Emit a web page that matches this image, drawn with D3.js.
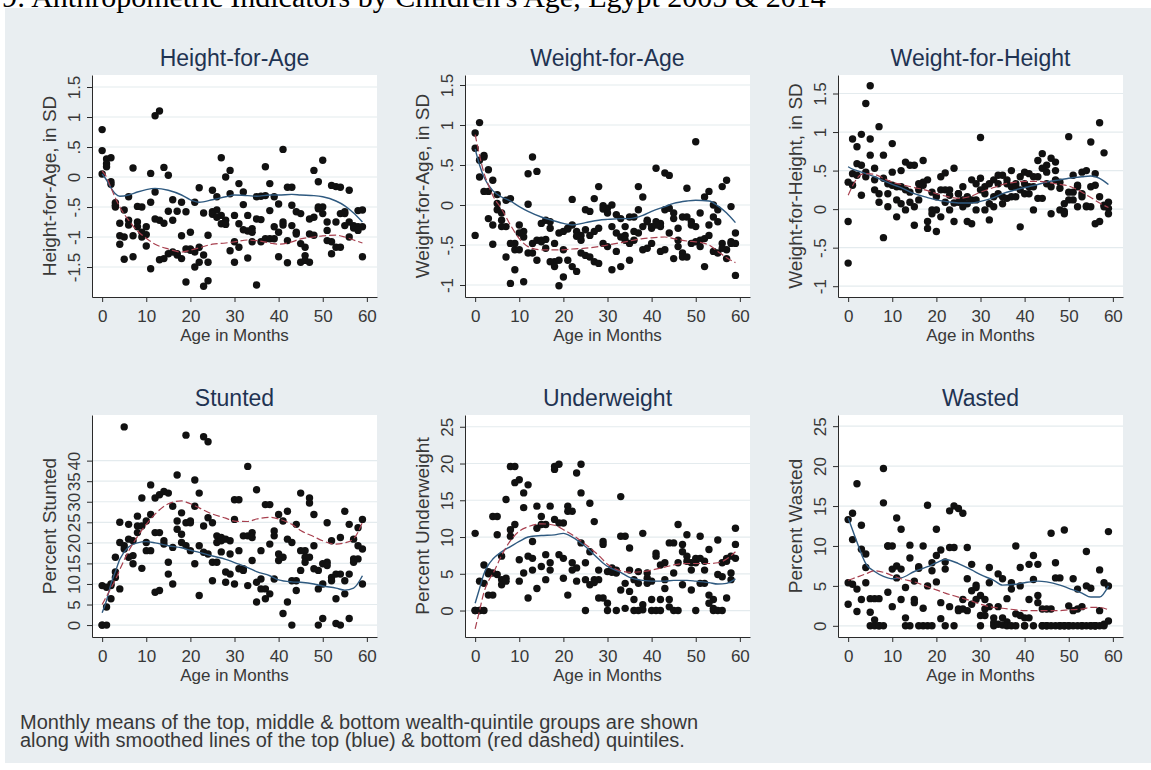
<!DOCTYPE html>
<html>
<head>
<meta charset="utf-8">
<script src="https://cdn.jsdelivr.net/npm/d3@7"></script>
<style>
  body { margin: 0; background: #ffffff; }
  text { font-family: "Liberation Sans", Arial, sans-serif; }
</style>
</head>
<body>
<script>
// Canvas
let width = 1151;
let height = 770;

let svg = d3.select("body")
            .append("svg")
            .attr("width", width)
            .attr("height", height);

// Colours
let graph_bg = "#e9eef1";
let plot_bg = "#ffffff";
let grid_color = "#e4ebee";
let title_color = "#1f3352";
let axis_color = "#2a2a2a";
let label_color = "#383838";
let top_color = "#2f5a80";     // top quintile smooth (blue)
let bottom_color = "#a8404f";  // bottom quintile smooth (red dashed)

// Months 0..59 (x categories)
const months = d3.range(0, 60);
// knots of the smoothed lines
const smoothMonths = [0,1,2,3,4,6,8,10,12,15,18,20,22,25,28,30,33,35,38,40,43,45,48,50,53,55,57,59];

// ---------- Height-for-Age (z-score) ----------
const hazHi = [0.79,0.3,0.32,-0.43,-0.77,-0.55,-0.33,0.15,-0.49,-0.5,-0.83,0.06,1.02,1.1,0.16,0.03,-0.38,-0.57,-0.42,-0.58,
  -0.92,-0.42,-0.18,-0.6,-0.97,-0.22,-0.33,0.32,0.0,0.11,-0.64,-0.11,-0.25,-0.64,-0.86,-0.33,-0.32,0.17,-0.11,-0.33,
  -0.45,0.46,-0.17,-0.17,-0.58,-0.61,-1.17,-0.7,0.11,-0.08,0.28,-0.75,-0.14,-0.16,-0.17,-0.58,-0.22,-0.81,-0.56,-0.55];
const hazMid = [0.44,0.22,-0.08,-0.47,-0.98,-1.0,-0.72,-0.98,-0.75,-0.92,-0.96,-0.42,-0.25,-0.72,-0.77,-0.57,-0.72,-1.28,-0.98,-1.2,
  -1.2,-1.25,-1.17,-1.3,-1.42,-0.58,-0.55,-0.64,-0.72,-0.28,-1.08,-0.78,-0.46,-0.9,-0.92,-0.7,-0.71,-0.31,-0.56,-0.83,
  -0.92,-0.75,-1.06,-0.47,-0.92,-1.11,-1.31,-0.95,-0.67,-0.5,-0.5,-0.89,-1.08,-0.75,-0.61,-0.61,-0.75,-0.83,-0.83,-0.83];
const hazLo = [0.05,0.17,-0.12,-0.5,-1.12,-1.37,-0.8,-1.33,-0.83,-1.0,-1.15,-1.53,-0.7,-1.38,-1.36,-1.28,-1.25,-1.3,-1.36,-1.75,
  -1.22,-1.5,-1.42,-1.82,-1.73,-0.62,-0.67,-0.78,-0.79,-1.23,-1.42,-1.17,-0.88,-1.35,-1.08,-1.8,-1.08,-1.03,-1.03,-1.03,
  -1.33,-0.8,-1.43,-0.81,-0.95,-1.42,-1.39,-1.42,-0.97,-0.53,-0.61,-1.06,-1.28,-1.17,-1.17,-0.81,-1.0,-0.85,-0.89,-1.33];
const hazBlue = [0.05,-0.05,-0.18,-0.28,-0.32,-0.3,-0.25,-0.21,-0.19,-0.22,-0.3,-0.38,-0.42,-0.38,-0.33,-0.3,-0.31,-0.32,-0.3,-0.3,-0.29,-0.3,-0.31,-0.33,-0.4,-0.48,-0.6,-0.75];
const hazRed = [0.1,0.0,-0.18,-0.35,-0.5,-0.72,-0.9,-1.02,-1.12,-1.2,-1.25,-1.22,-1.18,-1.12,-1.1,-1.08,-1.05,-1.06,-1.1,-1.12,-1.08,-1.03,-1.0,-0.98,-0.97,-1.0,-1.05,-1.1];
const hazTicks = [-1.5,-1,-0.5,0,0.5,1,1.5];
const hazTickLabels = ["-1.5","-1","-.5","0",".5","1","1.5"];

// ---------- Weight-for-Age (z-score) ----------
const wazHi = [0.9,1.03,0.62,0.44,0.31,0.13,-0.1,0.06,0.08,-0.48,-0.25,-0.33,0.39,0.6,0.42,-0.23,-0.19,-0.21,-0.48,-0.35,
  -0.33,-0.29,0.07,-0.33,-0.38,-0.06,-0.08,0.08,0.23,-0.01,-0.04,0.0,-0.12,-0.17,-0.27,-0.15,-0.15,0.23,0.1,-0.19,
  -0.27,0.46,-0.23,0.4,0.37,-0.1,-0.29,-0.15,0.21,-0.21,0.79,-0.1,0.1,0.17,0.0,-0.06,0.23,0.31,-0.02,-0.35];
const wazMid = [0.71,0.56,0.6,0.17,-0.25,0.02,-0.19,-0.27,-0.48,-0.56,-0.35,-0.4,0.01,-0.48,-0.44,-0.44,-0.43,-0.29,-0.71,-0.69,
  -0.56,-0.3,-0.25,-0.39,-0.44,-0.31,-0.38,-0.33,-0.29,-0.05,-0.1,-0.27,-0.35,-0.4,-0.38,-0.48,-0.33,-0.06,-0.27,-0.21,
  -0.29,-0.21,-0.27,-0.06,-0.04,-0.17,-0.44,-0.6,-0.15,-0.25,-0.27,-0.44,-0.42,-0.25,-0.15,-0.21,-0.48,-0.56,-0.46,-0.48];
const wazLo = [-0.38,0.35,0.17,-0.17,-0.49,-0.06,-0.27,-0.65,-0.98,-0.81,-0.56,-0.96,-0.6,-0.6,-0.69,-0.46,-0.54,-0.71,-0.77,-1.01,
  -0.9,-0.69,-0.77,-0.83,-0.6,-0.63,-0.65,-0.71,-0.73,-0.48,-0.52,-0.81,-0.58,-0.77,-0.44,-0.69,-0.44,-0.35,-0.56,-0.54,
  -0.48,-0.25,-0.58,-0.56,-0.35,-0.67,-0.52,-0.65,-0.65,-0.48,-0.46,-0.52,-0.77,-0.38,-0.58,-0.6,-0.54,-0.67,-0.48,-0.88];
const wazBlue = [0.7,0.5,0.35,0.25,0.18,0.1,0.05,-0.02,-0.08,-0.15,-0.2,-0.23,-0.25,-0.22,-0.19,-0.18,-0.17,-0.17,-0.13,-0.08,-0.02,0.02,0.05,0.06,0.05,-0.01,-0.1,-0.22];
const wazRed = [0.88,0.62,0.4,0.25,0.12,-0.05,-0.25,-0.42,-0.52,-0.56,-0.56,-0.56,-0.55,-0.54,-0.52,-0.5,-0.47,-0.45,-0.42,-0.41,-0.4,-0.42,-0.45,-0.46,-0.5,-0.58,-0.66,-0.72];
const wazTicks = [-1,-0.5,0,0.5,1,1.5];
const wazTickLabels = ["-1","-.5","0",".5","1","1.5"];

// ---------- Weight-for-Height (z-score) ----------
const whzHi = [0.35,0.91,0.81,0.97,1.37,1.6,0.53,1.07,0.7,0.33,0.85,0.29,0.5,0.61,0.57,0.57,0.33,0.63,0.38,0.22,
  0.16,0.42,0.47,0.25,0.53,0.2,0.29,0.16,0.38,0.33,0.93,0.29,0.33,0.38,0.44,0.44,0.38,0.5,0.33,0.42,
  0.48,0.46,0.42,0.63,0.72,0.57,0.66,0.61,0.35,0.07,0.94,0.44,0.31,0.48,0.5,0.87,0.46,1.12,0.73,0.09];
const whzMid = [-0.16,0.46,0.59,0.57,0.48,0.91,0.38,0.2,0.4,0.2,0.48,0.12,0.29,0.25,0.22,0.03,0.25,0.35,-0.16,-0.01,
  -0.01,0.25,0.25,0.18,0.08,0.2,0.12,0.07,0.12,0.12,0.4,0.2,0.07,0.16,0.33,0.16,0.33,0.29,0.29,0.25,
  0.33,0.29,0.29,0.42,0.53,0.48,0.29,0.5,0.27,-0.03,0.22,0.22,0.29,0.2,0.03,0.29,0.31,0.16,0.05,0.01];
const whzLo = [-0.7,0.31,0.44,0.18,0.42,0.7,0.25,0.09,-0.37,0.03,0.31,-0.1,0.07,-0.01,0.09,-0.21,0.12,0.31,-0.25,-0.06,
  -0.29,-0.1,0.09,-0.01,-0.16,0.09,0.03,-0.16,-0.19,-0.01,0.25,-0.01,-0.14,0.03,0.2,0.07,0.14,0.16,0.16,-0.23,
  0.2,0.2,-0.01,0.14,0.14,0.33,-0.06,0.38,-0.01,-0.06,0.12,0.12,0.03,0.16,0.04,0.03,-0.19,-0.16,0.03,-0.06];
const whzBlue = [0.55,0.52,0.5,0.48,0.46,0.42,0.37,0.32,0.28,0.2,0.15,0.12,0.1,0.08,0.08,0.1,0.15,0.2,0.25,0.28,0.32,0.35,0.38,0.4,0.42,0.43,0.4,0.32];
const whzRed = [0.18,0.3,0.4,0.45,0.46,0.45,0.4,0.35,0.32,0.28,0.24,0.2,0.17,0.14,0.17,0.22,0.28,0.32,0.35,0.36,0.36,0.35,0.32,0.3,0.22,0.15,0.08,0.02];
const whzTicks = [-1,-0.5,0,0.5,1,1.5];
const whzTickLabels = ["-1","-.5","0",".5","1","1.5"];

// ---------- Stunted (%) ----------
const stHi = [9.6,9.2,10,16.5,25,48.2,24.5,20.5,26.5,30.9,25.3,34.1,30.9,31.7,32.5,32.1,28.9,36.5,27.3,46.2,
  25.3,35.3,32.1,45.8,44.6,24.9,21.7,21.3,20.9,20.5,30.5,30.5,21.7,38.6,22.5,32.9,18.1,29.3,29.3,22.9,
  26.9,25.3,27.7,20.1,24.5,32.1,18.1,30.9,26.9,13.3,14.9,24.9,20.5,12.4,21.3,27.7,24.5,20.9,23.7,25.7];
const stMid = [0,4.4,9.6,12.9,20.1,19.3,20.9,16.9,24.1,24.1,20.1,26.9,22.5,22.5,20.5,15.3,18.9,25.3,22.1,24.9,
  24.9,28.9,19.3,24.1,26.1,15.3,20.1,20.5,12.9,17.3,25.7,18.1,13.7,21.7,21.3,10.4,11.2,8.8,19.7,21.7,
  17.3,16.5,20.9,10.8,10.8,18.1,16.5,29.7,19.3,8.8,10,15.3,11.6,6.4,12.4,10.8,12.4,16.1,19.3,18.5];
const stLo = [0,0,6.4,11.6,8.8,18.5,16.5,14.9,22.5,13.8,18.1,18.1,8,8.4,19.7,12.4,10,23.3,20.1,19.3,
  18.1,14.9,7.2,17.7,17.3,10.8,15.3,17.8,10.4,12.4,10,13.7,13.3,9.6,15.7,5.6,8.8,6.4,7.6,11.2,
  15.7,2.8,5.6,0,8.4,13.3,15.3,16.5,13.7,0,1.6,14.5,10.8,0.4,0,7.6,1.6,15.3,16.1,10];
const stBlue = [3,6,10,13,16,19,20,20.3,20,19.3,18.8,18.2,17.7,16.8,16,15.2,14,13,12,11,10.5,10.4,10,9.5,9,8.5,9,12];
const stRed = [5,7,9,11,13.5,18,21.5,24.5,27,29.5,30.2,29.5,28.5,27,26,25.3,25.2,25.8,26.2,25.8,24.5,23,21.5,20.5,19.7,20,21,25];
const stTicks = [0,5,10,15,20,25,30,35,40];

// ---------- Underweight (%) ----------
const uwHi = [10.5,4,6.2,5.3,12.8,12.8,7.4,15.1,19.6,19.6,17.8,16,17.1,9.4,14.2,12.8,11.7,14.2,19.6,19.9,
  11.9,14.2,13.5,18.7,19.9,6.5,14.6,12.1,5.5,9.4,5.3,5.8,5.5,15.5,10.1,8.5,4.2,5.3,10.5,5.1,
  4,7.8,6.2,6.5,9.2,9.2,11.7,9,10.3,6.5,7.1,10.1,6.7,8.3,1.5,9.6,6.5,7.1,7.4,11.2];
const uwMid = [0,0,3.7,5,5.1,10.3,4.2,4.4,11,17.4,6.9,14,7.4,7.1,11.2,11.7,7.6,6.5,19.2,11.9,
  7.1,13.5,6.5,5.8,16,4.2,8,4.2,4.2,9,1,5.5,5.1,10.1,3.7,5.5,1.5,3.7,0.8,4.4,
  1.5,7.4,1.5,4.2,1.5,5.1,6.5,8,7.4,5.5,6.5,7.1,5.5,2.1,0.3,4.9,4.6,6.7,5.1,9];
const uwLo = [0,0,0,2.1,2.1,4.9,3.5,4,10.1,11.7,4,5.1,1.7,5.5,3,6,4.2,5.5,12.4,7.6,
  4.4,2.1,5.5,4,9.2,0,3.5,3.8,1.7,1.7,0,5.2,0,2.8,0.3,2.6,0,0,0.1,3.7,
  0,0,0,3,0.5,0,0,3.5,6.7,2.8,0,3.7,3.7,1,0,0,0,1.7,4.2,7.1];
const uwBlue = [1,3,5,6.2,7,8,8.7,9.4,10,10.2,10.3,10.5,10,8.7,7,6,5.2,4.5,4.1,4,4,4.1,4.1,4,3.8,3.6,3.7,4.3];
const uwRed = [-2.5,0,2.5,4,5,7.5,9.5,10.8,11.4,11.8,11.6,11,10.3,9,7.5,6.3,5.4,5.2,5.3,5.5,5.9,6.2,6.4,6.4,6.4,6.5,7,8];
const uwTicks = [0,5,10,15,20,25];

// ---------- Wasted (%) ----------
const waHi = [13.3,14.1,17.8,12.6,9,3.4,3.4,3.4,19.7,10,10,13.5,12.1,4.8,10.1,5.6,7.4,10,15.1,7.9,
  12.1,9.5,8,14.4,15,14.7,14.1,9.8,7.7,5.1,3.8,3.3,7.3,1,6.5,5.9,3.4,5.4,10,7.3,
  1,7.7,8.8,7.7,2.1,2.1,11.6,7.9,6,12,2.5,5.9,4.6,2.4,9.3,4.7,0,7,5.4,11.8];
const waMid = [5.4,10.8,4.6,9.6,7.3,1.7,0.75,0,15.4,10,7.1,7.5,7.1,1,8.5,3.3,7.2,2.2,5,6.9,
  8.8,2.9,7.1,9.8,9.8,2.1,3.3,5.9,4.4,4.8,1.3,2.1,5.4,0.4,2.4,1,0.5,4.6,1.5,5,
  0,3.3,5.8,3.8,0,0,2.1,6,0,0,0,1.9,2.1,0,5,0,0,1.9,0.2,5];
const waLo = [2.7,5.2,1.8,3.3,5.4,0,0,0,0,4.2,2.4,6,3.3,0,0,2.9,0,0,0,0,
  5.5,0.9,0,2.4,0,1.9,2.1,1.9,2.7,3.3,0,1.3,2.4,0,0.2,0.1,0,0,0,1.3,
  0,1,0,2.9,0,0,0,0,0,0,0,0,0,0,0,0,0,0,0,0.6];
const waBlue = [13.5,12,10.5,9,7.8,6.8,6.2,5.9,6,6.8,7.4,7.9,8.3,7.8,7,6.4,5.7,5.1,5.2,5.4,5.6,5.5,5.1,4.7,4.1,3.6,3.6,5];
const waRed = [5.7,5.9,6.1,6.3,6.5,6.9,6.7,6.3,5.9,5.5,4.9,4.5,4.1,3.6,3.1,2.7,2.3,2.2,2,1.9,1.9,1.9,1.9,2,2.1,2.3,2.3,2];
const waTicks = [0,5,10,15,20,25];

const xTicks = [0,10,20,30,40,50,60];

const caption = "9: Anthropometric Indicators by Children's Age, Egypt 2005 & 2014";
const footnote = [
  "Monthly means of the top, middle & bottom wealth-quintile groups are shown",
  "along with smoothed lines of the top (blue) & bottom (red dashed) quintiles."
];

// Panel setup (layout only)
const colLeft = [92, 465, 838];
const rowTop = [75, 415];
const plotW = 285;
const plotH = 222;

const panels = [
  {title: "Height-for-Age", ytitle: "Height-for-Age, in SD", col: 0, row: 0, yDomain: [-2.0, 1.7],
   hi: hazHi, mid: hazMid, lo: hazLo, blue: hazBlue, red: hazRed, ticks: hazTicks, labels: hazTickLabels},
  {title: "Weight-for-Age", ytitle: "Weight-for-Age, in SD", col: 1, row: 0, yDomain: [-1.15, 1.625],
   hi: wazHi, mid: wazMid, lo: wazLo, blue: wazBlue, red: wazRed, ticks: wazTicks, labels: wazTickLabels},
  {title: "Weight-for-Height", ytitle: "Weight-for-Height, in SD", col: 2, row: 0, yDomain: [-1.14, 1.74],
   hi: whzHi, mid: whzMid, lo: whzLo, blue: whzBlue, red: whzRed, ticks: whzTicks, labels: whzTickLabels},
  {title: "Stunted", ytitle: "Percent Stunted", col: 0, row: 1, yDomain: [-2.9, 51.1],
   hi: stHi, mid: stMid, lo: stLo, blue: stBlue, red: stRed, ticks: stTicks, labels: stTicks.map(String)},
  {title: "Underweight", ytitle: "Percent Underweight", col: 1, row: 1, yDomain: [-3.6, 26.6],
   hi: uwHi, mid: uwMid, lo: uwLo, blue: uwBlue, red: uwRed, ticks: uwTicks, labels: uwTicks.map(String)},
  {title: "Wasted", ytitle: "Percent Wasted", col: 2, row: 1, yDomain: [-1.4, 26.4],
   hi: waHi, mid: waMid, lo: waLo, blue: waBlue, red: waRed, ticks: waTicks, labels: waTicks.map(String)}
];

// Graph background
svg.append("rect")
  .attr("x", 5)
  .attr("y", 8)
  .attr("width", width - 5)
  .attr("height", 755)
  .attr("fill", graph_bg);

// Figure caption, cut by the top edge of the page
svg.append("text")
  .attr("x", 2)
  .attr("y", 7)
  .style("font-family", "'Liberation Serif', 'Times New Roman', serif")
  .attr("font-size", 30)
  .attr("fill", "#000")
  .text(caption);

panels.forEach(p => {
  let left = colLeft[p.col];
  let top = rowTop[p.row];

  let x = d3.scaleLinear().domain([-2.3, 62.3]).range([0, plotW]);
  let y = d3.scaleLinear().domain(p.yDomain).range([plotH, 0]);

  let g = svg.append("g").attr("transform", `translate(${left},${top})`);

  // plot region
  g.append("rect")
    .attr("width", plotW)
    .attr("height", plotH)
    .attr("fill", plot_bg);

  // grid
  g.selectAll(".grid")
    .data(p.ticks)
    .enter().append("line")
    .attr("x1", 0)
    .attr("x2", plotW)
    .attr("y1", d => y(d))
    .attr("y2", d => y(d))
    .attr("stroke", grid_color)
    .attr("stroke-width", 1.2);

  // points: top, middle, bottom quintile monthly means
  [p.hi, p.mid, p.lo].forEach(series => {
    g.selectAll(null)
      .data(series)
      .enter().append("circle")
      .attr("cx", (d, i) => x(months[i]))
      .attr("cy", d => y(d))
      .attr("r", 3.7)
      .attr("fill", "#111");
  });

  // smoothed lines
  let line = d3.line()
    .x((d, i) => x(smoothMonths[i]))
    .y(d => y(d))
    .curve(d3.curveMonotoneX);

  g.append("path")
    .datum(p.blue)
    .attr("d", line)
    .attr("fill", "none")
    .attr("stroke", top_color)
    .attr("stroke-width", 1.4);

  g.append("path")
    .datum(p.red)
    .attr("d", line)
    .attr("fill", "none")
    .attr("stroke", bottom_color)
    .attr("stroke-width", 1.2)
    .attr("stroke-dasharray", "7,3");

  // x axis
  let xa = g.append("g")
    .attr("transform", `translate(0,${plotH})`)
    .call(d3.axisBottom(x).tickValues(xTicks).tickSize(5).tickSizeOuter(0).tickPadding(8));
  xa.select(".domain").attr("stroke", axis_color);
  xa.selectAll(".tick line").attr("stroke", axis_color);
  xa.selectAll("text").attr("font-size", 17).attr("fill", label_color).attr("font-family", null);

  // y axis
  let ya = g.append("g")
    .call(d3.axisLeft(y).tickValues(p.ticks).tickFormat((d, i) => p.labels[i]).tickSize(5).tickSizeOuter(0));
  ya.select(".domain").attr("stroke", axis_color);
  ya.selectAll(".tick line").attr("stroke", axis_color);
  ya.selectAll("text")
    .attr("font-size", 17)
    .attr("fill", label_color)
    .attr("font-family", null)
    .attr("text-anchor", "middle")
    .attr("x", 0)
    .attr("y", -12)
    .attr("dy", 0)
    .attr("transform", "rotate(-90)");

  // axis titles
  g.append("text")
    .attr("x", plotW / 2)
    .attr("y", plotH + 44)
    .attr("text-anchor", "middle")
    .attr("font-size", 17)
    .attr("fill", label_color)
    .text("Age in Months");

  g.append("text")
    .attr("transform", `translate(-36,${plotH / 2}) rotate(-90)`)
    .attr("text-anchor", "middle")
    .attr("font-size", 19)
    .attr("fill", label_color)
    .text(p.ytitle);

  // panel title
  g.append("text")
    .attr("x", plotW / 2)
    .attr("y", -9)
    .attr("text-anchor", "middle")
    .attr("font-size", 23)
    .attr("fill", title_color)
    .text(p.title);
});

// Note under the graphs
svg.selectAll(".note")
  .data(footnote)
  .enter().append("text")
  .attr("class", "note")
  .attr("x", 20)
  .attr("y", (d, i) => 729 + i * 18)
  .attr("font-size", 20)
  .attr("fill", label_color)
  .text(d => d);
</script>
</body>
</html>
